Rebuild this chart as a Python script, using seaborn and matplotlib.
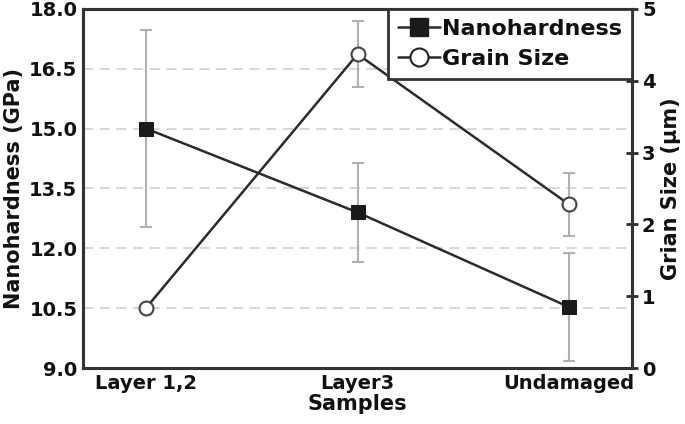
import matplotlib
matplotlib.use("Agg")
import matplotlib.pyplot as plt
import seaborn as sns
import pandas as pd
import numpy as np
from matplotlib.lines import Line2D

samples = ["Layer 1,2", "Layer3", "Undamaged"]
hardness = [15.0, 12.9, 10.53]
hardness_err = [2.47, 1.25, 1.35]
grain = [0.84, 4.37, 2.28]
grain_err = [0.0, 0.46, 0.44]
left_ticks = [9.0, 10.5, 12.0, 13.5, 15.0, 16.5, 18.0]
right_ticks = [0, 1, 2, 3, 4, 5]

sns.set_theme(style="white")
plt.rcParams["font.family"] = ["DejaVu Sans"]
plt.rcParams["font.weight"] = "bold"

df = pd.DataFrame({"Samples": samples, "hard": hardness, "grain": grain})

fig = plt.figure(figsize=(6.85, 4.24), dpi=100)
ax = fig.add_axes([0.121, 0.132, 0.802, 0.847])
ax2 = ax.twinx()

dark = "#2b2b2b"
ecol = "#b0b0b0"
txt = "#111111"

pos = np.arange(len(samples))
ax.errorbar(pos, hardness, yerr=hardness_err, fmt="none", ecolor=ecol,
            elinewidth=1.5, capsize=4, capthick=1.5, zorder=1)
sns.lineplot(data=df, x="Samples", y="hard", ax=ax, color=dark, lw=1.8,
             marker="s", markersize=10, markerfacecolor="#1a1a1a",
             markeredgecolor="#1a1a1a", sort=False, zorder=3)

ax2.errorbar(pos, grain, yerr=grain_err, fmt="none", ecolor=ecol,
             elinewidth=1.5, capsize=4, capthick=1.5, zorder=1)
sns.lineplot(data=df, x="Samples", y="grain", ax=ax2, color=dark, lw=1.8,
             marker="o", markersize=10, markerfacecolor="white",
             markeredgecolor="#444444", markeredgewidth=1.5, sort=False, zorder=3)

ax.set_xlim(-0.3, 2.3)
ax.set_ylim(9.0, 18.0)
ax.set_yticks(left_ticks)
ax.set_yticklabels([f"{t:.1f}" for t in left_ticks], fontsize=14, fontweight="heavy", color=txt)
ax2.set_ylim(0, 5)
ax2.set_yticks(right_ticks)
ax2.set_yticklabels([str(t) for t in right_ticks], fontsize=14, fontweight="heavy", color=txt)

ax.set_xticks(pos)
ax.set_xticklabels(samples, fontsize=14, fontweight="heavy", color=txt)

ax.set_xlabel("Samples", fontsize=15, fontweight="heavy", color=txt, labelpad=1)
ax.set_ylabel("Nanohardness (GPa)", fontsize=15, fontweight="heavy", color=txt, labelpad=4)
ax2.set_ylabel("Grian Size (\u03bcm)", fontsize=15, fontweight="heavy", color=txt, labelpad=4)

for g in [10.5, 12.0, 13.5, 15.0, 16.5]:
    ax.axhline(g, color="#d0d0d0", lw=1.2, ls=(0, (6, 4)), zorder=0)

ax.tick_params(axis="both", length=0, pad=4)
ax2.tick_params(axis="y", direction="inout", length=8, width=2, color=dark, pad=3)
ax2.tick_params(axis="x", length=0)
for a in (ax, ax2):
    for s in a.spines.values():
        s.set_color("#333333")
        s.set_linewidth(2.2)
    a.grid(False)

handles = [
    Line2D([], [], color=dark, lw=1.8, marker="s", markersize=13,
           markerfacecolor="#1a1a1a", markeredgecolor="#1a1a1a"),
    Line2D([], [], color=dark, lw=1.8, marker="o", markersize=13,
           markerfacecolor="white", markeredgecolor="#222222", markeredgewidth=1.5),
]
leg = ax2.legend(handles, ["Nanohardness", "Grain Size"], loc="upper right",
                 bbox_to_anchor=(1.0, 1.0), borderaxespad=0, frameon=True,
                 fancybox=False, prop={"size": 16, "weight": "heavy"},
                 handlelength=1.9, handletextpad=0.1, borderpad=0.45,
                 labelspacing=0.45)
for t in leg.get_texts():
    t.set_color(txt)
leg.get_frame().set_edgecolor("#333333")
leg.get_frame().set_linewidth(2.0)
leg.get_frame().set_facecolor("white")
leg.get_frame().set_alpha(1)

fig.savefig("out.png", dpi=100)
